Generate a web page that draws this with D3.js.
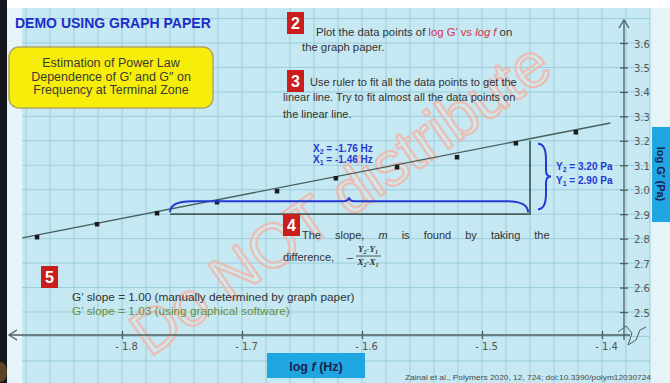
<!DOCTYPE html>
<html>
<head>
<meta charset="utf-8">
<script src="https://cdnjs.cloudflare.com/ajax/libs/d3/7.8.5/d3.min.js"></script>
<style>
  body { margin: 0; background: #fff; }
  svg { display: block; font-family: "Liberation Sans", Arial, sans-serif; }
</style>
</head>
<body>
<svg id="chart" width="670" height="383"></svg>
<script>
var xTicks = [-1.8, -1.7, -1.6, -1.5, -1.4];
var yTicks = [2.5, 2.6, 2.7, 2.8, 2.9, 3.0, 3.1, 3.2, 3.3, 3.4, 3.5, 3.6];
var logF = [-1.871, -1.821, -1.771, -1.721, -1.671, -1.622, -1.571, -1.521, -1.472, -1.422];
var logG = [2.807, 2.860, 2.905, 2.950, 2.995, 3.048, 3.093, 3.134, 3.191, 3.236];
var fitF = [-1.883, -1.393];
var fitG = [2.803, 3.273];
var xPair = [-1.76, -1.46];   // X2, X1
var yPair = [2.90, 3.20];     // Y1, Y2

var svg = d3.select('#chart');
var W = 670, H = 383;

var x = d3.scaleLinear().domain([-1.8, -1.4]).range([122, 602]);
var y = d3.scaleLinear().domain([2.5, 3.6]).range([312, 43]);

//Background / paper
svg.append('rect').attr('width', W).attr('height', H).attr('fill', '#ffffff');
svg.append('rect').attr('x', 0).attr('y', 8).attr('width', W).attr('height', H - 8).attr('fill', '#e6f4f8');
svg.append('rect').attr('x', 22).attr('y', 8).attr('width', 628).attr('height', H - 8).attr('fill', '#c5e8f2');

var grid = svg.append('g').attr('stroke', '#9ccddc').attr('stroke-width', 1);
d3.range(-1.88, -1.35, 0.02).forEach(function(v){
	grid.append('line').attr('x1', x(v)).attr('x2', x(v)).attr('y1', 8).attr('y2', H);
});
d3.range(2.2, 3.95, 0.1).forEach(function(v){
	if (y(v) < 8 || y(v) > H) return;
	grid.append('line').attr('x1', 22).attr('x2', 650).attr('y1', y(v)).attr('y2', y(v));
});

// left dark frame
svg.append('rect').attr('x', 0).attr('y', 0).attr('width', 7).attr('height', H).attr('fill', '#15171f');
svg.append('ellipse').attr('cx', 1).attr('cy', 372).attr('rx', 6).attr('ry', 10).attr('fill', '#5b4423');

//Watermark
svg.append('text')
	.attr('transform', 'translate(340,198) rotate(-35)')
	.attr('text-anchor', 'middle')
	.attr('dy', '0.35em')
	.style('font-size', '62px')
	.style('font-family', '"Liberation Sans", Arial, sans-serif')
	.attr('fill', 'rgba(255,240,236,0.22)')
	.attr('stroke', '#f2b1a2')
	.attr('stroke-width', 2.4)
	.attr('stroke-opacity', 0.75)
	.text('Do NOT distribute');

//Axes
var axisCol = '#4d5d5e';
var xAxis = svg.append('g').attr('transform', 'translate(0,335)');
xAxis.call(d3.axisBottom(x).tickValues(xTicks).tickSize(0).tickFormat(''));
xAxis.select('.domain').remove();
xAxis.append('line').attr('x1', 9).attr('x2', 630).attr('stroke', axisCol).attr('stroke-width', 1.3);
xAxis.append('path').attr('d', 'M17,-5 L9,0 L17,5').attr('fill', 'none').attr('stroke', axisCol).attr('stroke-width', 1.3);
xAxis.selectAll('.tick line').attr('y1', -4).attr('y2', 4).attr('stroke', axisCol).attr('stroke-width', 1.3);
xAxis.selectAll('.tick').append('text')
	.attr('x', 4).attr('y', 15)
	.attr('text-anchor', 'middle')
	.style('font-size', '10px')
	.style('font-family', '"DejaVu Sans", sans-serif')
	.attr('fill', '#555')
	.text(function(d){ return '- ' + (-d).toFixed(1); });

var yAxis = svg.append('g').attr('transform', 'translate(624,0)');
yAxis.call(d3.axisRight(y).tickValues(yTicks).tickSize(0).tickFormat(''));
yAxis.select('.domain').remove();
yAxis.append('line').attr('y1', 340).attr('y2', 20).attr('stroke', axisCol).attr('stroke-width', 1.3);
yAxis.append('path').attr('d', 'M-5,28 L0,20 L5,28').attr('fill', 'none').attr('stroke', axisCol).attr('stroke-width', 1.3);
yAxis.selectAll('.tick line').attr('x1', -4).attr('x2', 4).attr('stroke', axisCol).attr('stroke-width', 1.3);
yAxis.selectAll('.tick').append('text')
	.attr('x', 10).attr('y', 4)
	.style('font-size', '10px')
	.style('font-family', '"DejaVu Sans", sans-serif')
	.attr('fill', '#555')
	.text(function(d){ return d.toFixed(1); });
svg.append('path').attr('d', 'M618,332 L626,326 L632,333 L628,345 L636,340 L640,330 L646,327')
	.attr('fill', 'none').attr('stroke', axisCol).attr('stroke-width', 1);

//Fit line, triangle, points
var lineCol = '#47605f';
svg.append('line')
	.attr('x1', x(fitF[0])).attr('y1', y(fitG[0]))
	.attr('x2', x(fitF[1])).attr('y2', y(fitG[1]))
	.attr('stroke', lineCol).attr('stroke-width', 1.4);

svg.append('path')
	.attr('d', 'M' + x(xPair[0]) + ',' + y(yPair[0]) + 'H' + x(xPair[1]) + 'V' + y(yPair[1]))
	.attr('fill', 'none').attr('stroke', lineCol).attr('stroke-width', 1.8);

svg.selectAll('.pt')
	.data(logF)
  .enter()
	.append('rect')
	.classed('pt', true)
	.attr('x', function(d){ return x(d) - 2; })
	.attr('y', function(d, i){ return y(logG[i]) - 2; })
	.attr('width', 4.5).attr('height', 4.5)
	.attr('fill', '#1b1b1b');

// curly brackets
var blue = '#2339d4';
function hBrace(x1, x2, y0, q){
	var m = (x1 + x2) / 2;
	return 'M' + x1 + ',' + y0 +
		'Q' + x1 + ',' + (y0 - q) + ' ' + (x1 + 2 * q) + ',' + (y0 - q) +
		'L' + (m - 6) + ',' + (y0 - q) +
		'Q' + m + ',' + (y0 - q) + ' ' + m + ',' + (y0 - q - 4) +
		'Q' + m + ',' + (y0 - q) + ' ' + (m + 6) + ',' + (y0 - q) +
		'L' + (x2 - 2 * q) + ',' + (y0 - q) +
		'Q' + x2 + ',' + (y0 - q) + ' ' + x2 + ',' + y0;
}
function vBrace(x0, y1, y2, q){
	var m = (y1 + y2) / 2;
	return 'M' + x0 + ',' + y1 +
		'Q' + (x0 + q) + ',' + y1 + ' ' + (x0 + q) + ',' + (y1 + 2 * q) +
		'L' + (x0 + q) + ',' + (m - 6) +
		'Q' + (x0 + q) + ',' + m + ' ' + (x0 + q + 5) + ',' + m +
		'Q' + (x0 + q) + ',' + m + ' ' + (x0 + q) + ',' + (m + 6) +
		'L' + (x0 + q) + ',' + (y2 - 2 * q) +
		'Q' + (x0 + q) + ',' + y2 + ' ' + x0 + ',' + y2;
}
svg.append('path').attr('d', hBrace(x(xPair[0]), x(xPair[1]) - 2, y(yPair[0]) - 2, 11))
	.attr('fill', 'none').attr('stroke', blue).attr('stroke-width', 2);
svg.append('path').attr('d', vBrace(x(xPair[1]) + 8, y(yPair[1]) + 3, y(yPair[0]) - 5, 8))
	.attr('fill', 'none').attr('stroke', blue).attr('stroke-width', 2);

function subLabel(g, xx, yy, letter, sub, rest){
	var t = g.append('text').attr('x', xx).attr('y', yy)
		.attr('fill', blue).style('font-size', '10px').style('font-weight', 'bold');
	t.append('tspan').text(letter);
	t.append('tspan').attr('dy', 2).style('font-size', '7px').text(sub);
	t.append('tspan').attr('dy', -2).text(rest);
}
var lab = svg.append('g');
subLabel(lab, 313, 152, 'X', '2', ' = ' + xPair[0].toFixed(2) + ' Hz');
subLabel(lab, 313, 163, 'X', '1', ' = ' + xPair[1].toFixed(2) + ' Hz');
subLabel(lab, 556, 170, 'Y', '2', ' = ' + yPair[1].toFixed(2) + ' Pa');
subLabel(lab, 556, 184, 'Y', '1', ' = ' + yPair[0].toFixed(2) + ' Pa');

//Title and yellow box
svg.append('text').attr('x', 15).attr('y', 28)
	.style('font-size', '14px').style('font-weight', 'bold')
	.attr('fill', '#1b2ec9').text('DEMO USING GRAPH PAPER');

svg.append('rect').attr('x', 9).attr('y', 47).attr('width', 204).attr('height', 61).attr('rx', 10)
	.attr('fill', '#f6ee0a').attr('stroke', '#b3a65e').attr('stroke-width', 1.5);
['Estimation of Power Law', 'Dependence of G\u2032 and G\u2033 on', 'Frequency at Terminal Zone']
	.forEach(function(s, i){
		svg.append('text').attr('x', 111).attr('y', 67 + i * 13.5)
			.attr('text-anchor', 'middle')
			.style('font-size', '12.5px').attr('fill', '#3b3b35').text(s);
	});

// step markers
function stepBox(xx, yy, n){
	svg.append('rect').attr('x', xx).attr('y', yy).attr('width', 17).attr('height', 22).attr('fill', '#cc1d1d');
	svg.append('text').attr('x', xx + 8.5).attr('y', yy + 17).attr('text-anchor', 'middle')
		.style('font-size', '16px').style('font-weight', 'bold').attr('fill', '#fff').text(n);
}
var txtCol = '#333333';
stepBox(287, 12, '2');
var t2 = svg.append('text').attr('x', 316).attr('y', 36).style('font-size', '11.3px').attr('fill', txtCol);
t2.append('tspan').text('Plot the data points of  ');
t2.append('tspan').attr('fill', '#d43249').text('log G\u2032 vs ');
t2.append('tspan').attr('fill', '#d43249').style('font-style', 'italic').text('log f');
t2.append('tspan').text(' on');
svg.append('text').attr('x', 302).attr('y', 51).style('font-size', '11.3px').attr('fill', txtCol).text('the graph paper.');

stepBox(287, 70, '3');
svg.append('text').attr('x', 310).attr('y', 86).style('font-size', '11px').attr('fill', txtCol)
	.text('Use ruler to fit all the data points to get the');
svg.append('text').attr('x', 283).attr('y', 101).style('font-size', '11px').attr('fill', txtCol)
	.text('linear line. Try to fit almost all the data points on');
svg.append('text').attr('x', 283).attr('y', 118).style('font-size', '11px').attr('fill', txtCol)
	.text('the linear line.');

stepBox(283, 214, '4');
var t4 = svg.append('text').attr('x', 302).attr('y', 239).style('font-size', '11px')
	.style('word-spacing', '11px').attr('fill', txtCol);
t4.append('tspan').text('The slope, ');
t4.append('tspan').style('font-style', 'italic').text('m');
t4.append('tspan').text(' is found by taking the');
svg.append('text').attr('x', 283).attr('y', 261).style('font-size', '11px').attr('fill', txtCol).text('difference,');
svg.append('text').attr('x', 347).attr('y', 261).style('font-size', '11px').attr('fill', txtCol).text('\u2013');
var frac = svg.append('g').style('font-family', '"Liberation Serif", serif').style('font-size', '9px')
	.style('font-style', 'italic').style('font-weight', 'bold').attr('fill', '#333');
var num = frac.append('text').attr('x', 368).attr('y', 252).attr('text-anchor', 'middle');
num.append('tspan').text('Y');
num.append('tspan').attr('dy', 2).style('font-size', '6px').text('2');
num.append('tspan').attr('dy', -2).text('-Y');
num.append('tspan').attr('dy', 2).style('font-size', '6px').text('1');
frac.append('line').attr('x1', 356).attr('x2', 381).attr('y1', 256).attr('y2', 256).attr('stroke', '#333').attr('stroke-width', 0.8);
var den = frac.append('text').attr('x', 368).attr('y', 265).attr('text-anchor', 'middle');
den.append('tspan').text('X');
den.append('tspan').attr('dy', 2).style('font-size', '6px').text('2');
den.append('tspan').attr('dy', -2).text('-X');
den.append('tspan').attr('dy', 2).style('font-size', '6px').text('1');

stepBox(41, 266, '5');
svg.append('text').attr('x', 72).attr('y', 301).style('font-size', '11.8px').attr('fill', txtCol)
	.text('G\u2032 slope = 1.00 (manually determined by graph paper)');
svg.append('text').attr('x', 72).attr('y', 315).style('font-size', '11.8px').attr('fill', '#6b8c3c')
	.text('G\u2032 slope =  1.03 (using graphical software)');

//Axis title boxes
svg.append('rect').attr('x', 267).attr('y', 353).attr('width', 98).attr('height', 25).attr('fill', '#1fa6e0');
var xl = svg.append('text').attr('x', 316).attr('y', 371).attr('text-anchor', 'middle')
	.style('font-size', '12.5px').style('font-weight', 'bold').attr('fill', '#1b2150');
xl.append('tspan').text('log ');
xl.append('tspan').style('font-style', 'italic').text('f');
xl.append('tspan').text(' (Hz)');

svg.append('rect').attr('x', 652).attr('y', 127).attr('width', 18).attr('height', 95).attr('fill', '#1fa6e0');
svg.append('text').attr('transform', 'translate(657,174) rotate(90)').attr('text-anchor', 'middle')
	.style('font-size', '11px').style('font-weight', 'bold').attr('fill', '#1b2150')
	.text('log G\u2032 (Pa)');

svg.append('text').attr('x', 405).attr('y', 380)
	.attr('textLength', 246).attr('lengthAdjust', 'spacingAndGlyphs')
	.style('font-size', '7px').attr('fill', '#4a4a4a')
	.text('Zainal et al., Polymers 2020, 12, 724; doi:10.3390/polym12030724');
</script>
</body>
</html>
